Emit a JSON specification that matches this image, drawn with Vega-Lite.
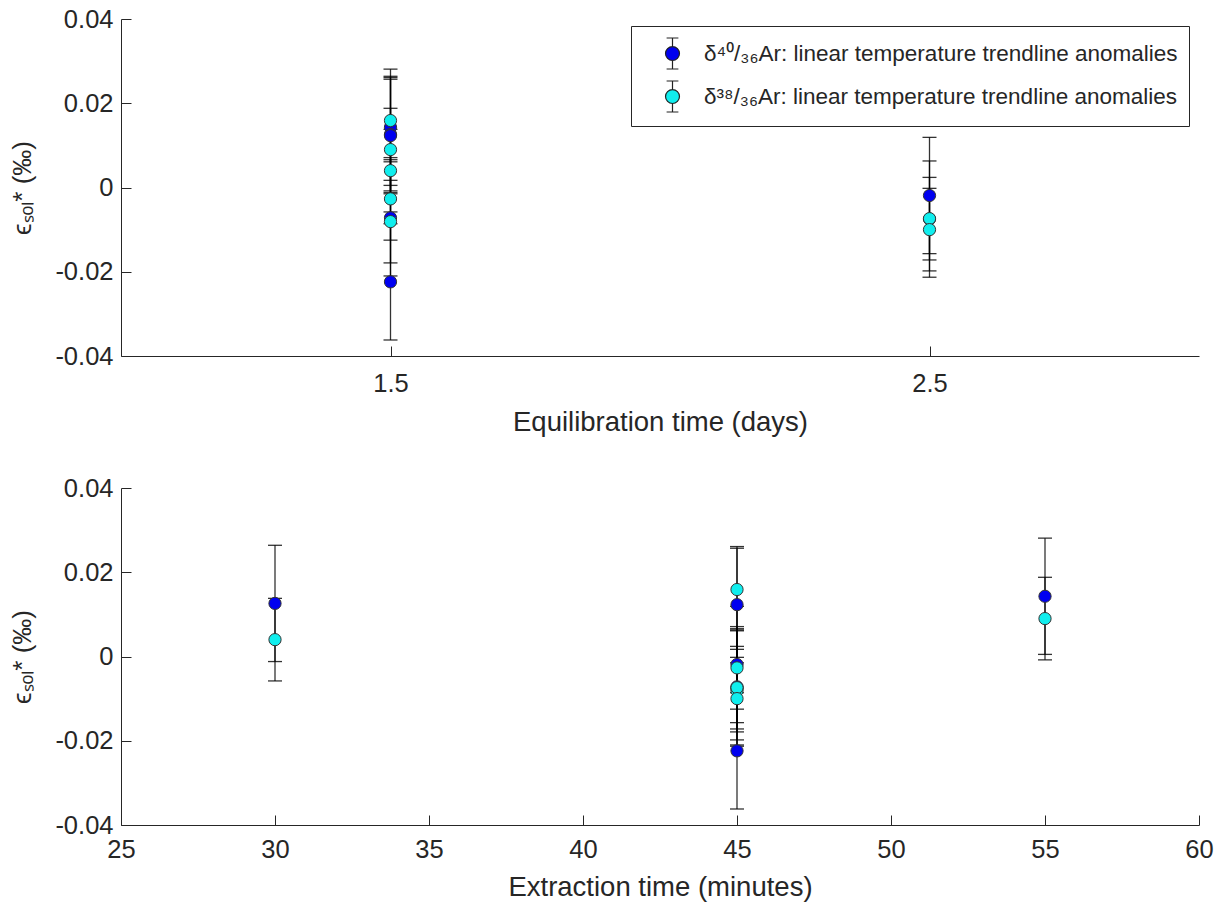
{
  "$schema": "https://vega.github.io/schema/vega-lite/v6.json",
  "padding": {"left": 9, "top": 7, "right": 5, "bottom": 5},
  "background": "white",
  "config": {
    "view": {"stroke": null},
    "font": "Liberation Sans",
    "axis": {
      "grid": false,
      "domainColor": "#262626",
      "domainWidth": 1,
      "tickColor": "#262626",
      "tickWidth": 1,
      "tickSize": -10,
      "labelFont": "Liberation Sans",
      "labelFontSize": 25.5,
      "labelColor": "#262626",
      "titleFont": "Liberation Sans",
      "titleFontWeight": "normal",
      "titleColor": "#262626"
    }
  },
  "data": {
    "values": [
      {"series": "δ⁴⁰/₃₆Ar: linear temperature trendline anomalies", "days": 1.5, "minutes": 55, "value": 0.0143, "lo": 0.0005, "hi": 0.0281},
      {"series": "δ⁴⁰/₃₆Ar: linear temperature trendline anomalies", "days": 1.5, "minutes": 30, "value": 0.0126, "lo": -0.0012, "hi": 0.0264},
      {"series": "δ⁴⁰/₃₆Ar: linear temperature trendline anomalies", "days": 1.5, "minutes": 45, "value": 0.0123, "lo": -0.0015, "hi": 0.0261},
      {"series": "δ⁴⁰/₃₆Ar: linear temperature trendline anomalies", "days": 1.5, "minutes": 45, "value": -0.0072, "lo": -0.0210, "hi": 0.0066},
      {"series": "δ⁴⁰/₃₆Ar: linear temperature trendline anomalies", "days": 1.5, "minutes": 45, "value": -0.0224, "lo": -0.0362, "hi": -0.0086},
      {"series": "δ⁴⁰/₃₆Ar: linear temperature trendline anomalies", "days": 2.5, "minutes": 45, "value": -0.0019, "lo": -0.0157, "hi": 0.0119},
      {"series": "δ⁴⁰/₃₆Ar: linear temperature trendline anomalies", "days": 2.5, "minutes": 45, "value": -0.0075, "lo": -0.0213, "hi": 0.0063},
      {"series": "δ³⁸/₃₆Ar: linear temperature trendline anomalies", "days": 1.5, "minutes": 45, "value": 0.0159, "lo": 0.0061, "hi": 0.0257},
      {"series": "δ³⁸/₃₆Ar: linear temperature trendline anomalies", "days": 1.5, "minutes": 55, "value": 0.0090, "lo": -0.0008, "hi": 0.0188},
      {"series": "δ³⁸/₃₆Ar: linear temperature trendline anomalies", "days": 1.5, "minutes": 30, "value": 0.0040, "lo": -0.0058, "hi": 0.0138},
      {"series": "δ³⁸/₃₆Ar: linear temperature trendline anomalies", "days": 1.5, "minutes": 45, "value": -0.0027, "lo": -0.0125, "hi": 0.0071},
      {"series": "δ³⁸/₃₆Ar: linear temperature trendline anomalies", "days": 1.5, "minutes": 45, "value": -0.0081, "lo": -0.0179, "hi": 0.0017},
      {"series": "δ³⁸/₃₆Ar: linear temperature trendline anomalies", "days": 2.5, "minutes": 45, "value": -0.0074, "lo": -0.0172, "hi": 0.0024},
      {"series": "δ³⁸/₃₆Ar: linear temperature trendline anomalies", "days": 2.5, "minutes": 45, "value": -0.0100, "lo": -0.0198, "hi": -0.0002}
    ]
  },
  "bounds": "flush",
  "spacing": 132,
  "resolve": {"legend": {"color": "independent"}},
  "vconcat": [
    {
      "width": 1078,
      "height": 337,
      "encoding": {
        "x": {"field": "days", "type": "quantitative",
          "scale": {"domain": [1, 3], "nice": false, "zero": false},
          "axis": {"values": [1.5, 2.5], "format": ".1f", "title": "Equilibration time (days)", "titleFontSize": 27.5, "labelPadding": 25, "titlePadding": 12, "labelFlush": false}
        }
      },
      "layer": [
        {
          "mark": {"type": "rule", "color": "#000000", "strokeWidth": 1.3, "opacity": 0.8},
          "encoding": {
            "y": {"field": "lo", "type": "quantitative", "scale": {"domain": [-0.04, 0.04], "nice": false},
              "axis": {"values": [-0.04, -0.02, 0, 0.02, 0.04], "title": "ϵₛₒₗ* (‰)", "titleFontSize": 26, "labelPadding": 18, "titlePadding": 19,
                "labelExpr": "abs(datum.value) < 1e-9 ? '0' : (datum.value < 0 ? '-' + format(-datum.value, '.2f') : format(datum.value, '.2f'))"}},
            "y2": {"field": "hi"}
          }
        },
        {
          "mark": {"type": "tick", "orient": "horizontal", "size": 14, "thickness": 1.3, "color": "#000000", "opacity": 0.8},
          "encoding": {"y": {"field": "lo", "type": "quantitative"}}
        },
        {
          "mark": {"type": "tick", "orient": "horizontal", "size": 14, "thickness": 1.3, "color": "#000000", "opacity": 0.8},
          "encoding": {"y": {"field": "hi", "type": "quantitative"}}
        },
        {
          "mark": {"type": "point", "shape": "circle", "filled": true, "size": 150, "opacity": 1, "stroke": "#333333", "strokeWidth": 1},
          "encoding": {
            "y": {"field": "value", "type": "quantitative"},
            "color": {"field": "series", "type": "nominal",
              "scale": {"domain": ["δ⁴⁰/₃₆Ar: linear temperature trendline anomalies", "δ³⁸/₃₆Ar: linear temperature trendline anomalies"], "range": ["#0000f0", "#10eeee"]},
              "legend": {
                "title": null, "orient": "none", "legendX": 510, "legendY": 7,
                "fillColor": "white", "strokeColor": "#262626", "padding": 11, "cornerRadius": 0,
                "labelFont": "Liberation Sans, Noto Sans", "labelFontSize": 22.5, "labelColor": "#262626", "labelLimit": 800,
                "symbolType": "M0,-1L0,-0.45M0,0.45L0,1M-0.38,-1L0.38,-1M-0.38,1L0.38,1M-0.45,0A0.45,0.45,0,1,1,0.45,0A0.45,0.45,0,1,1,-0.45,0Z",
                "symbolSize": 961, "symbolStrokeColor": "#222222", "symbolStrokeWidth": 1.2, "symbolOpacity": 1,
                "symbolOffset": 14, "labelOffset": 15, "rowPadding": 6
              }
            }
          }
        }
      ]
    },
    {
      "width": 1078,
      "height": 337,
      "encoding": {
        "x": {"field": "minutes", "type": "quantitative",
          "scale": {"domain": [25, 60], "nice": false, "zero": false},
          "axis": {"values": [25, 30, 35, 40, 45, 50, 55, 60], "title": "Extraction time (minutes)", "titleFontSize": 27.5, "labelPadding": 22, "titlePadding": 11, "labelFlush": false}
        }
      },
      "layer": [
        {
          "mark": {"type": "rule", "color": "#000000", "strokeWidth": 1.3, "opacity": 0.8},
          "encoding": {
            "y": {"field": "lo", "type": "quantitative", "scale": {"domain": [-0.04, 0.04], "nice": false},
              "axis": {"values": [-0.04, -0.02, 0, 0.02, 0.04], "title": "ϵₛₒₗ* (‰)", "titleFontSize": 26, "labelPadding": 18, "titlePadding": 19,
                "labelExpr": "abs(datum.value) < 1e-9 ? '0' : (datum.value < 0 ? '-' + format(-datum.value, '.2f') : format(datum.value, '.2f'))"}},
            "y2": {"field": "hi"}
          }
        },
        {
          "mark": {"type": "tick", "orient": "horizontal", "size": 14, "thickness": 1.3, "color": "#000000", "opacity": 0.8},
          "encoding": {"y": {"field": "lo", "type": "quantitative"}}
        },
        {
          "mark": {"type": "tick", "orient": "horizontal", "size": 14, "thickness": 1.3, "color": "#000000", "opacity": 0.8},
          "encoding": {"y": {"field": "hi", "type": "quantitative"}}
        },
        {
          "mark": {"type": "point", "shape": "circle", "filled": true, "size": 150, "opacity": 1, "stroke": "#333333", "strokeWidth": 1},
          "encoding": {
            "y": {"field": "value", "type": "quantitative"},
            "color": {"field": "series", "type": "nominal", "legend": null}
          }
        }
      ]
    }
  ]
}
